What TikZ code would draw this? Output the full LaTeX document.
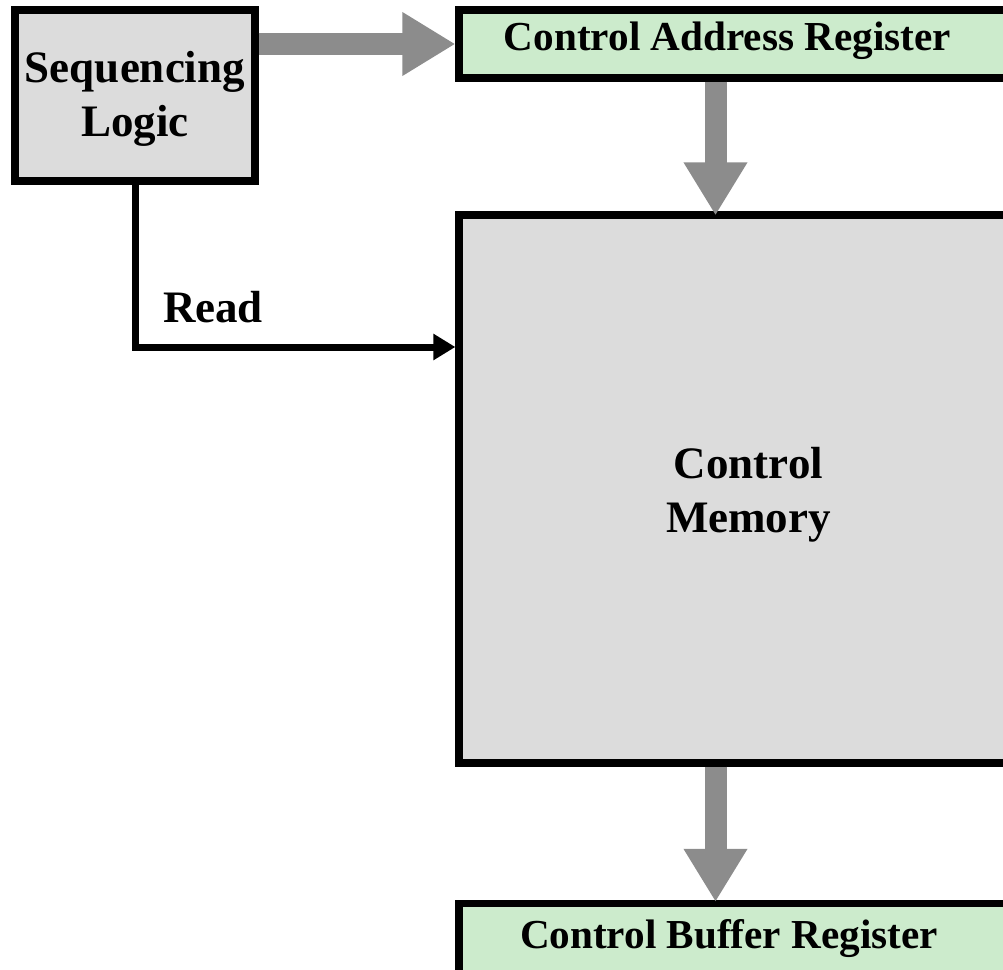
\documentclass[tikz,border=0pt]{standalone}
\usepackage{fontspec}
\setmainfont{Liberation Serif}
\usetikzlibrary{arrows.meta}

\definecolor{unitgray}{RGB}{220,220,220}
\definecolor{reggreen}{RGB}{204,235,204}
\definecolor{flowgray}{RGB}{140,140,140}

\tikzset{
  unitbox/.style={draw=black, line width=3.6pt, fill=unitgray, inner sep=0pt},
  regbox/.style={unitbox, fill=reggreen},
  bigtxt/.style={font=\fontsize{22.5}{27}\selectfont\bfseries, align=center, inner sep=0pt},
  regtxt/.style={font=\fontsize{20.6}{27}\selectfont\bfseries, inner sep=0pt},
  flow/.style={draw=flowgray, line width=11pt, -{Triangle[width=30pt,length=26.5pt]}},
  ctrl/.style={line width=3.5pt, -{Triangle[width=12.5pt,length=11pt]}}
}

\begin{document}
\begin{tikzpicture}[x=0.5pt,y=-0.5pt]
        \clip (0,0) rectangle (1003,970);

        % boxes
        \node[unitbox, minimum width=120pt, minimum height=85.5pt] (seq) at (135,95.5) {};
        \node[regbox, minimum width=300pt, minimum height=34pt] (car) at (759,44) {};
        \node[unitbox, minimum width=300pt, minimum height=274pt] (cm) at (759,489) {};
        \node[regbox, minimum width=300pt, minimum height=35pt] (cbr) at (759,938.5) {};

        % texts
        \node[bigtxt] (seqT) at (135,99) {Sequencing\\Logic};
        \node[regtxt, anchor=base] (carT) at (727.5,50) {Control Address Register};
        \node[bigtxt] (cmT) at (748.5,495) {Control\\Memory};
        \node[regtxt, anchor=base] (cbrT) at (729,948) {Control Buffer Register};

        % flow arrows
        \coordinate (ax) at (715.5,0);
        \draw[flow] (seq.east |- car.west) -- (car.west);
        \draw[flow] (car.south -| ax) -- ([yshift=-2pt]cm.north -| ax);
        \draw[flow] (cm.south -| ax) -- ([yshift=-1pt]cbr.north -| ax);

        %read line
        \coordinate (rd) at (0,347);
        \draw[ctrl] (seq.south) |- (cm.west |- rd);
        \node[bigtxt, anchor=base] (rdT) at (213,322) {Read};
\end{tikzpicture}
\end{document}
